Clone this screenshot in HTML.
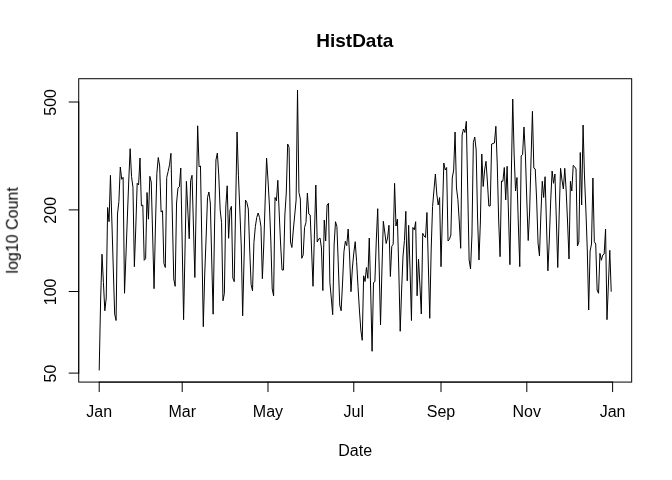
<!DOCTYPE html>
<html><head><meta charset="utf-8"><title>HistData</title>
<style>
html,body{margin:0;padding:0;background:#fff;}
body{width:672px;height:480px;overflow:hidden;position:relative;}
text{font-family:"Liberation Sans",sans-serif;fill:#000;}
.t{font-size:16px;}
.m{font-size:19px;font-weight:bold;}
</style></head><body>
<svg width="672" height="480" viewBox="0 0 672 480" style="position:absolute;left:0;top:0">
<rect width="672" height="480" fill="#fff"/>
<g stroke-linecap="round" opacity="0.999">
<polyline fill="none" stroke="#000" stroke-width="1" stroke-linejoin="round" stroke-linecap="round" points="99.20,370.0 100.61,300.0 102.01,254.2 103.42,282.5 104.83,310.8 106.23,298.0 107.64,207.5 109.05,221.7 110.45,175.3 111.86,221.0 113.27,268.0 114.67,314.0 116.08,320.5 117.49,214.0 118.89,201.7 120.30,167.0 121.71,179.3 123.11,177.3 124.52,293.3 125.93,256.0 127.33,218.0 128.74,181.0 130.15,148.7 131.55,176.7 132.96,187.5 134.36,266.7 135.77,228.0 137.18,183.3 138.58,185.0 139.99,158.0 141.40,205.8 142.80,205.0 144.21,260.3 145.62,258.7 147.02,192.5 148.43,219.2 149.84,176.3 151.24,182.0 152.65,235.0 154.06,288.7 155.46,225.0 156.87,173.3 158.28,157.5 159.68,166.0 161.09,212.0 162.50,210.8 163.90,263.3 165.31,267.5 166.72,177.5 168.12,171.5 169.53,164.8 170.94,153.3 172.34,216.0 173.75,279.0 175.16,286.3 176.56,203.0 177.97,188.0 179.38,186.7 180.78,168.0 182.19,244.0 183.60,319.7 185.00,250.0 186.41,181.3 187.82,210.0 189.22,238.8 190.63,180.8 192.04,175.3 193.44,226.0 194.85,277.5 196.25,200.0 197.66,125.8 199.07,166.7 200.47,166.0 201.88,245.0 203.29,326.7 204.69,275.0 206.10,238.0 207.51,197.5 208.91,192.0 210.32,203.0 211.73,260.0 213.13,314.2 214.54,227.0 215.95,160.0 217.35,153.0 218.76,175.0 220.17,210.0 221.57,222.5 222.98,300.8 224.39,293.3 225.79,207.0 227.20,185.8 228.61,238.3 230.01,210.0 231.42,206.3 232.83,278.0 234.23,281.7 235.64,207.0 237.05,132.0 238.45,175.8 239.86,211.0 241.27,246.0 242.67,315.8 244.08,258.0 245.49,200.0 246.89,202.5 248.30,209.0 249.71,250.0 251.11,284.5 252.52,290.8 253.93,242.5 255.33,226.7 256.74,217.5 258.15,213.0 259.55,217.5 260.96,226.7 262.36,278.7 263.77,245.0 265.18,200.0 266.58,158.0 267.99,180.0 269.40,205.0 270.80,240.0 272.21,289.0 273.62,295.8 275.02,197.5 276.43,200.8 277.84,180.3 279.24,214.0 280.65,245.0 282.06,270.0 283.46,270.0 284.87,215.0 286.28,193.0 287.68,144.0 289.09,147.5 290.50,242.0 291.90,247.5 293.31,230.0 294.72,215.0 296.12,200.0 297.53,90.0 298.94,192.5 300.34,199.0 301.75,258.3 303.16,255.0 304.56,227.5 305.97,222.5 307.38,193.0 308.78,214.0 310.19,215.0 311.60,250.0 313.00,286.3 314.41,235.0 315.82,185.0 317.22,242.0 318.63,239.0 320.04,238.0 321.44,248.0 322.85,290.6 324.25,220.0 325.66,241.0 327.07,205.0 328.47,203.3 329.88,282.5 331.29,298.0 332.69,314.7 334.10,245.0 335.51,221.7 336.91,226.7 338.32,265.0 339.73,305.0 341.13,310.8 342.54,283.0 343.95,251.7 345.35,241.3 346.76,245.6 348.17,229.0 349.57,255.0 350.98,291.7 352.39,268.0 353.79,253.0 355.20,241.7 356.61,261.7 358.01,286.7 359.42,310.0 360.83,330.0 362.23,340.3 363.64,275.8 365.05,281.5 366.45,267.5 367.86,278.3 369.27,238.0 370.67,290.0 372.08,351.3 373.49,282.5 374.89,281.7 376.30,240.0 377.71,208.7 379.11,265.0 380.52,325.0 381.93,270.0 383.33,221.3 384.74,232.0 386.15,243.5 387.55,238.0 388.96,225.3 390.36,276.5 391.77,246.3 393.18,244.2 394.58,183.3 395.99,226.0 397.40,219.0 398.80,270.0 400.21,331.3 401.62,290.0 403.02,256.0 404.43,240.5 405.84,211.3 407.24,280.8 408.65,225.3 410.06,270.0 411.46,320.5 412.87,227.5 414.28,229.8 415.68,221.7 417.09,295.8 418.50,259.0 419.90,285.0 421.31,314.0 422.72,233.3 424.12,236.0 425.53,237.5 426.94,212.5 428.34,265.0 429.75,318.3 431.16,250.0 432.56,206.7 433.97,190.0 435.38,174.0 436.78,194.0 438.19,205.0 439.60,197.5 441.00,266.7 442.41,215.0 443.82,163.0 445.22,170.0 446.63,167.5 448.04,241.0 449.44,239.3 450.85,235.0 452.25,178.0 453.66,170.0 455.07,132.0 456.47,188.0 457.88,199.5 459.29,222.0 460.69,248.3 462.10,135.0 463.51,129.0 464.91,132.5 466.32,121.3 467.73,190.0 469.13,260.0 470.54,269.0 471.95,235.0 473.35,142.5 474.76,137.0 476.17,150.0 477.57,218.0 478.98,260.0 480.39,222.0 481.79,154.0 483.20,186.5 484.61,170.0 486.01,161.3 487.42,182.0 488.83,206.0 490.23,206.0 491.64,144.0 493.05,143.5 494.45,143.0 495.86,126.3 497.27,165.0 498.67,220.0 500.08,256.7 501.49,181.0 502.89,181.3 504.30,167.5 505.71,200.0 507.11,166.3 508.52,215.0 509.93,264.7 511.33,175.0 512.74,99.0 514.15,155.0 515.55,191.0 516.96,177.5 518.36,225.0 519.77,266.7 521.18,156.0 522.58,154.5 523.99,127.0 525.40,155.0 526.80,200.0 528.21,240.5 529.62,212.0 531.02,160.0 532.43,111.3 533.84,168.1 535.24,169.0 536.65,200.0 538.06,243.0 539.46,256.0 540.87,215.0 542.28,181.3 543.68,197.5 545.09,176.7 546.50,225.0 547.90,270.8 549.31,240.0 550.72,200.0 552.12,171.0 553.53,183.3 554.94,174.0 556.34,220.0 557.75,267.5 559.16,215.0 560.56,168.3 561.97,180.0 563.38,189.0 564.78,168.3 566.19,191.0 567.60,223.0 569.00,259.0 570.41,181.3 571.82,191.0 573.22,165.3 574.63,166.7 576.04,169.0 577.44,246.0 578.85,242.0 580.25,152.5 581.66,205.0 583.07,125.0 584.47,176.0 585.88,210.0 587.29,250.0 588.69,310.0 590.10,251.0 591.51,244.0 592.91,178.0 594.32,241.7 595.73,244.0 597.13,290.0 598.54,293.3 599.95,253.3 601.35,260.3 602.76,255.0 604.17,254.0 605.57,229.0 606.98,319.7 608.39,285.0 609.79,250.3 611.20,291.3"/>
<rect x="78.72" y="78.72" width="552.96" height="303.36" fill="none" stroke="#000" stroke-width="1"/>
<path d="M99.20 382.08H612.61" stroke="#000" fill="none"/>
<path d="M99.20 382.08v9.6" stroke="#000" fill="none"/>
<text x="99.20" y="416.6" text-anchor="middle" class="t">Jan</text>
<path d="M182.19 382.08v9.6" stroke="#000" fill="none"/>
<text x="182.19" y="416.6" text-anchor="middle" class="t">Mar</text>
<path d="M267.99 382.08v9.6" stroke="#000" fill="none"/>
<text x="267.99" y="416.6" text-anchor="middle" class="t">May</text>
<path d="M353.79 382.08v9.6" stroke="#000" fill="none"/>
<text x="353.79" y="416.6" text-anchor="middle" class="t">Jul</text>
<path d="M441.00 382.08v9.6" stroke="#000" fill="none"/>
<text x="441.00" y="416.6" text-anchor="middle" class="t">Sep</text>
<path d="M526.80 382.08v9.6" stroke="#000" fill="none"/>
<text x="526.80" y="416.6" text-anchor="middle" class="t">Nov</text>
<path d="M612.61 382.08v9.6" stroke="#000" fill="none"/>
<text x="612.61" y="416.6" text-anchor="middle" class="t">Jan</text>
<path d="M78.72 373.1V102.0" stroke="#000" fill="none"/>
<path d="M78.72 373.1h-9.6" stroke="#000" fill="none"/>
<text transform="translate(56.2,373.5) rotate(-90)" text-anchor="middle" class="t">50</text>
<path d="M78.72 291.5h-9.6" stroke="#000" fill="none"/>
<text transform="translate(56.2,291.9) rotate(-90)" text-anchor="middle" class="t">100</text>
<path d="M78.72 209.9h-9.6" stroke="#000" fill="none"/>
<text transform="translate(56.2,210.3) rotate(-90)" text-anchor="middle" class="t">200</text>
<path d="M78.72 102.0h-9.6" stroke="#000" fill="none"/>
<text transform="translate(56.2,102.4) rotate(-90)" text-anchor="middle" class="t">500</text>
<text x="354.8" y="46.6" text-anchor="middle" class="m">HistData</text>
<text x="355.2" y="456" text-anchor="middle" class="t">Date</text>
<text transform="translate(17.8,230.4) rotate(-90)" text-anchor="middle" class="t">log10 Count</text>
</g>
</svg>
</body></html>
